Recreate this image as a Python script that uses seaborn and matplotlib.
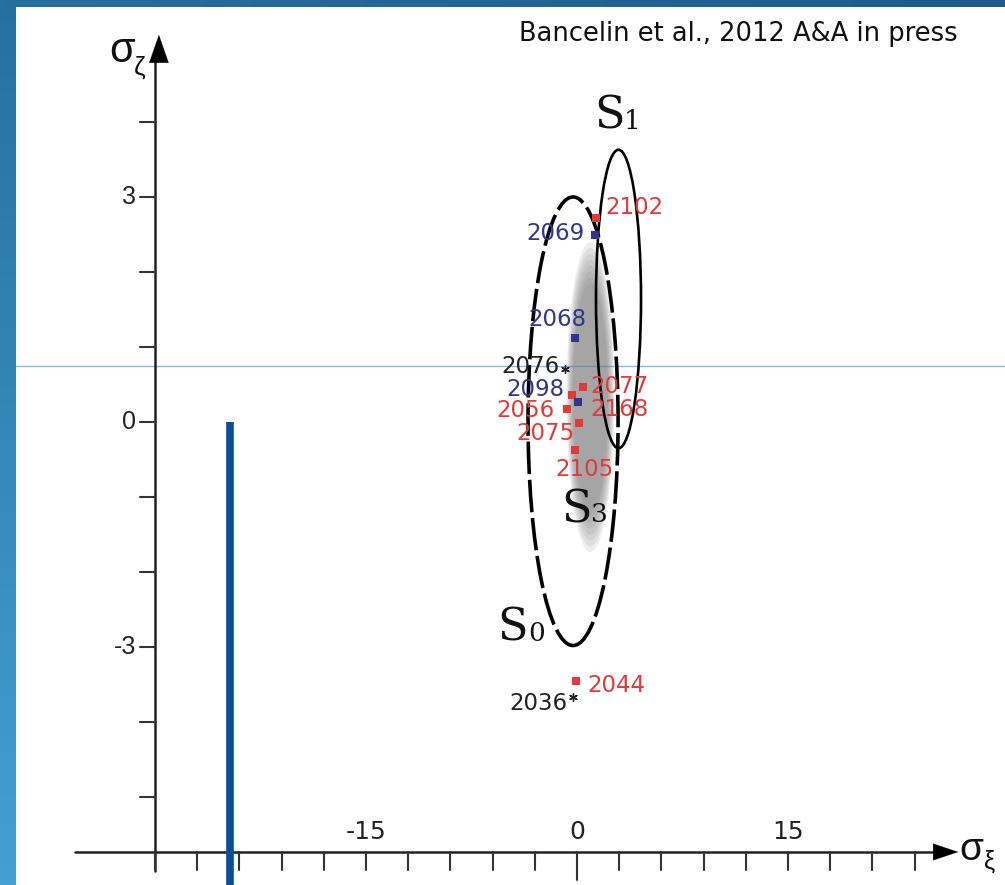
import matplotlib
matplotlib.use("Agg")
import matplotlib.pyplot as plt
from matplotlib.patches import Ellipse
from matplotlib.colors import LinearSegmentedColormap
import numpy as np
import pandas as pd
import seaborn as sns

sns.set_style("white")
plt.rcParams['font.family'] = ['DejaVu Sans']

# close approaches: label, sigma_xi, sigma_zeta, kind
labels = ['2102', '2069', '2068', '2076', '2077', '2168', '2098', '2056',
          '2075', '2105', '2044', '2036']
xi = [1.35, 1.28, -0.14, -0.85, 0.43, -0.36, 0.07, -0.71, 0.14, -0.14, -0.07, -0.28]
zeta = [2.72, 2.49, 1.12, 0.71, 0.47, 0.36, 0.27, 0.17, -0.01, -0.37, -3.45, -3.67]
kind = ['red', 'blue', 'blue', 'star', 'red', 'red', 'blue', 'red',
        'red', 'red', 'red', 'star']

# ellipses: centre x, centre y, half width, half height
S0 = (-0.28, 0.01, 3.2, 2.99)
S1 = (2.95, 1.64, 1.6, 1.99)
S3 = (0.95, 0.33, 1.6, 1.95)

xticks = np.arange(-30, 25, 3)
xticklabels = {-15: '-15', 0: '0', 15: '15'}
yticks = np.arange(-5, 5, 1)
yticklabels = {3: '3', 0: '0', -3: '-3'}

colors = {'red': '#e23a3a', 'blue': '#34348a', 'star': '#222222'}
label_offsets = {  # pixels, ha
    '2102': (9, 10, 'left'), '2069': (-10, 2, 'right'), '2068': (-18, 18, 'center'),
    '2076': (-5, 2, 'right'), '2077': (7, 0, 'left'), '2168': (18, -14, 'left'),
    '2098': (-13, 12, 'right'), '2056': (-12, -1, 'right'), '2075': (-4, -11, 'right'),
    '2105': (9, -20, 'center'), '2044': (11, -5, 'left'), '2036': (-6, -6, 'right'),
}

W, H = 1005, 885
fig = plt.figure(figsize=(W / 100, H / 100), dpi=100)
ax = fig.add_axes([0, 0, 1, 1])
ax.set_xlim(-577 / 14.07, (W - 577) / 14.07)
ax.set_ylim((422 - H) / 75, 422 / 75)
ax.axis('off')

# blue frame
left = fig.add_axes([0, 0, 15 / W, 1])
left.imshow(np.linspace(0, 1, 256).reshape(-1, 1), aspect='auto',
            cmap=LinearSegmentedColormap.from_list('l', ['#2670a0', '#44a0d2']))
left.axis('off')
top = fig.add_axes([0, 1 - 7 / H, 1, 7 / H])
top.imshow(np.linspace(0, 1, 256).reshape(1, -1), aspect='auto',
           cmap=LinearSegmentedColormap.from_list('t', ['#2670a0', '#1d5c8a']))
top.axis('off')

px = 1 / 14.07   # data units per pixel in x
py = 1 / 75      # data units per pixel in y

# thin horizontal line and thick blue bar
ax.plot([-41, 31], [0.747, 0.747], color='#86bcd8', lw=1, zorder=1)
ax.plot([-24.66, -24.66], [0, -6.3], color='#0a4f96', lw=5.5, zorder=6,
        solid_capstyle='butt')

# axes with arrows
ax.plot([-30, -30], [-5.98, 4.8], color='#222222', lw=1.8, zorder=3)
ax.annotate('', xy=(-30 + 4 * px, 5.2), xytext=(-30 + 4 * px, 4.75),
            arrowprops=dict(arrowstyle='-|>,head_width=0.7,head_length=2.0',
                            color='black', lw=0.1))
ax.plot([-35.7, 25.5], [-5.733, -5.733], color='#222222', lw=1.8, zorder=3)
ax.annotate('', xy=(27.3, -5.733), xytext=(25.2, -5.733),
            arrowprops=dict(arrowstyle='-|>,head_width=0.6,head_length=1.8',
                            color='black', lw=0.1))
for t in xticks:
    ln = 28 if t == 0 else 18
    ax.plot([t, t], [-5.733, -5.733 - ln * py], color='#333333', lw=1.5, zorder=3)
    if t in xticklabels:
        ax.text(t, -5.733 + 8 * py, xticklabels[t], ha='center', va='bottom',
                fontsize=18, family='Liberation Sans Narrow', color='#222222')
for t in yticks:
    ax.plot([-30, -30 - 15 * px], [t, t], color='#333333', lw=1.5, zorder=3)
    if t in yticklabels:
        ax.text(-30 - 19 * px, t, yticklabels[t], ha='right', va='center',
                fontsize=18, family='Liberation Sans', color='#222222')
ax.text(-30 - 20 * px, 4.94, 'σ', ha='right', va='center', fontsize=30,
        family='Liberation Sans', color='#111111')
ax.text(-30 - 21 * px, 4.72, 'ζ', ha='left', va='center', fontsize=19,
        family='Liberation Sans', color='#111111')
ax.text(27.2, -5.70, 'σ', ha='left', va='center', fontsize=28,
        family='Liberation Sans', color='#111111')
ax.text(28.95, -5.86, 'ξ', ha='left', va='center', fontsize=18,
        family='Liberation Sans', color='#111111')

# S3 blurred region
cx, cy, hw, hh = S3
for i in range(8):
    f = 1.06 - i * 0.04
    ax.add_patch(Ellipse((cx, cy), 2 * hw * f, 2 * hh * f, facecolor='#787878',
                         edgecolor='none', alpha=0.12, zorder=2))

cx, cy, hw, hh = S0
ax.add_patch(Ellipse((cx, cy), 2 * hw, 2 * hh, fill=False, edgecolor='black',
                     lw=2.6, linestyle=(0, (9, 1.6)), zorder=4))
cx, cy, hw, hh = S1
ax.add_patch(Ellipse((cx, cy), 2 * hw, 2 * hh, fill=False, edgecolor='black',
                     lw=1.9, zorder=4))

sfont = dict(fontsize=32, family='DejaVu Serif', color='#111111')
subfont = dict(fontsize=19, family='DejaVu Serif', color='#111111')
ax.text(-5.7, -2.75, 'S', ha='left', va='center', **sfont)
ax.text(-3.5, -2.82, '0', ha='left', va='center', **subfont)
ax.text(1.2, 4.08, 'S', ha='left', va='center', **sfont)
ax.text(3.35, 4.01, '1', ha='left', va='center', **subfont)
ax.text(-1.15, -1.17, 'S', ha='left', va='center', **sfont)
ax.text(1.0, -1.24, '3', ha='left', va='center', **subfont)

df = pd.DataFrame({'xi': xi, 'zeta': zeta, 'kind': kind, 'label': labels})
sq = df[df.kind != 'star']
sns.scatterplot(data=sq, x='xi', y='zeta', hue='kind', palette=colors, marker='s',
                s=30, linewidth=0, legend=False, ax=ax, zorder=5)
st = df[df.kind == 'star']
sns.scatterplot(data=st, x='xi', y='zeta', color='#222222', marker=(6, 2, 0),
                s=30, linewidth=1, legend=False, ax=ax, zorder=5)
ax.set_xlabel('')
ax.set_ylabel('')

for _, r in df.iterrows():
    dx, dy, ha = label_offsets[r.label]
    ax.annotate(r.label, (r.xi, r.zeta), xytext=(dx, dy), textcoords='offset pixels',
                ha=ha, va='center', fontsize=16.5, color=colors[r.kind], zorder=5)

ax.text(958 / 1005, 1 - 34 / H, 'Bancelin et al., 2012 A&A in press', transform=ax.transAxes,
        ha='right', va='center', fontsize=18.5, color='#111111')

fig.savefig('out.png', dpi=100)
